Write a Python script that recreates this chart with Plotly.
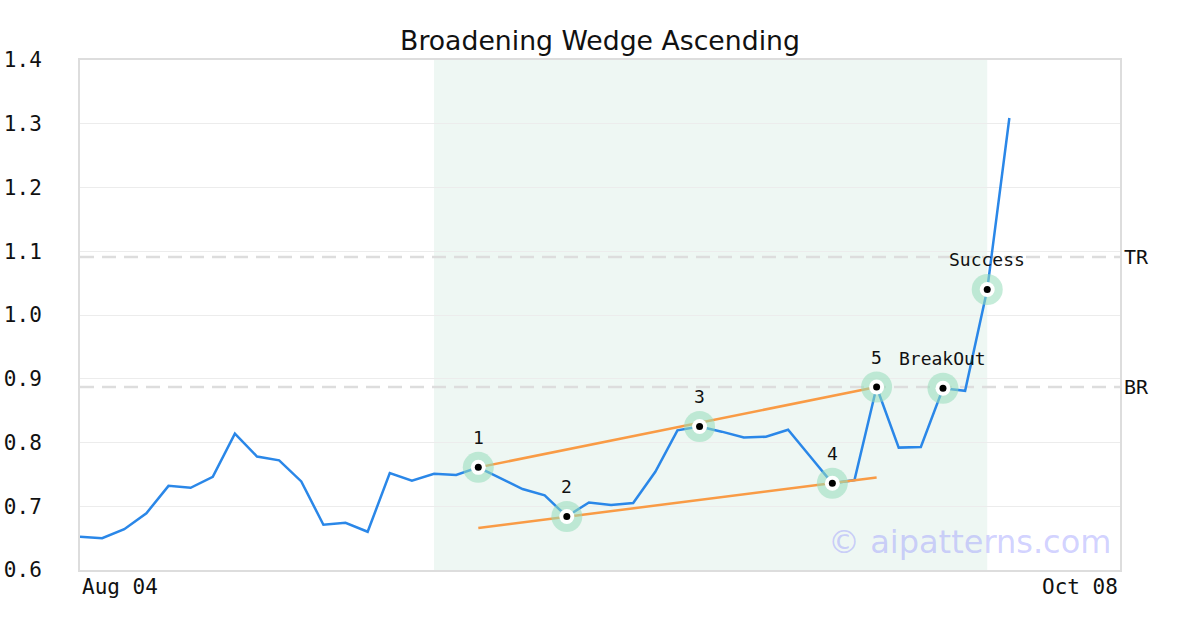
import plotly.graph_objects as go

# ---- data ----
price_idx = list(range(43))
price = [0.652, 0.650, 0.664, 0.689, 0.732, 0.729, 0.746, 0.814, 0.778, 0.772,
         0.739, 0.671, 0.674, 0.660, 0.752, 0.740, 0.751, 0.749, 0.761, 0.744,
         0.727, 0.717, 0.684, 0.706, 0.702, 0.705, 0.754, 0.819, 0.825, 0.817,
         0.808, 0.809, 0.820, 0.778, 0.736, 0.741, 0.887, 0.792, 0.793, 0.885,
         0.881, 1.040, 1.309]

point_labels = ["1", "2", "3", "4", "5", "BreakOut", "Success"]
point_idx = [18, 22, 28, 34, 36, 39, 41]
point_val = [0.761, 0.684, 0.825, 0.736, 0.887, 0.885, 1.040]

upper_idx = [18, 36]
upper_val = [0.761, 0.887]
lower_idx = [18, 36]
lower_val = [0.666, 0.745]

level_names = ["TR", "BR"]
level_vals = [1.091, 0.887]

pattern_span = [16, 41]
x_range = [0, 47]
x_tick_pos = [0, 47]
x_tick_text = ["Aug 04", "Oct 08"]

title = "Broadening Wedge Ascending"
watermark = "© aipatterns.com"

MONO = "DejaVu Sans Mono"

fig = go.Figure()

# shaded pattern zone
fig.add_shape(type="rect", xref="x", yref="paper", x0=pattern_span[0], x1=pattern_span[1],
              y0=0, y1=1, fillcolor="#eef7f3", line=dict(width=0), layer="below")

# TR / BR dashed levels
for name, v in zip(level_names, level_vals):
    fig.add_shape(type="line", xref="paper", yref="y", x0=0, x1=1, y0=v, y1=v,
                  line=dict(color="#dddddd", width=2.5, dash="14px,8px"), layer="below")
    fig.add_annotation(xref="paper", yref="y", x=1, y=v, text=name, showarrow=False,
                       xanchor="left", xshift=2, font=dict(family=MONO, size=20, color="#111"))

# price line
fig.add_trace(go.Scatter(x=price_idx, y=price, mode="lines",
                         line=dict(color="#2a87e8", width=2.5), hoverinfo="skip"))

# trend lines
fig.add_trace(go.Scatter(x=upper_idx, y=upper_val, mode="lines",
                         line=dict(color="#f99b45", width=2.5), hoverinfo="skip"))
fig.add_trace(go.Scatter(x=lower_idx, y=lower_val, mode="lines",
                         line=dict(color="#f99b45", width=2.5), hoverinfo="skip"))

# markers: halo, white ring, black dot
fig.add_trace(go.Scatter(x=point_idx, y=point_val, mode="markers",
                         marker=dict(size=31, color="rgba(150,220,185,0.55)", line=dict(width=0)),
                         hoverinfo="skip"))
fig.add_trace(go.Scatter(x=point_idx, y=point_val, mode="markers",
                         marker=dict(size=15, color="white", line=dict(width=0)),
                         hoverinfo="skip"))
fig.add_trace(go.Scatter(x=point_idx, y=point_val, mode="markers",
                         marker=dict(size=7, color="black", line=dict(width=0)),
                         hoverinfo="skip"))

for lab, xi, v in zip(point_labels, point_idx, point_val):
    fig.add_annotation(x=xi, y=v, text=lab, showarrow=False, yshift=30,
                       font=dict(family=MONO, size=18, color="#111"))

# x tick labels
for pos, txt, anc in zip(x_tick_pos, x_tick_text, ["left", "right"]):
    fig.add_annotation(xref="x", yref="paper", x=pos, y=0, text=txt, showarrow=False,
                       xanchor=anc, yanchor="top", yshift=-3,
                       font=dict(family=MONO, size=21, color="#111"))

# watermark
fig.add_annotation(xref="paper", yref="paper", x=0.993, y=0.055, text=watermark, showarrow=False,
                   xanchor="right", yanchor="middle",
                   font=dict(family="DejaVu Sans", size=32, color="rgba(140,140,255,0.4)"))

fig.update_layout(
    width=1200, height=630,
    margin=dict(l=80, r=80, t=60, b=60),
    paper_bgcolor="white", plot_bgcolor="white",
    showlegend=False,
    title=dict(text=title, x=0.5, xanchor="center", y=0.936, yanchor="middle",
               font=dict(family="DejaVu Sans", size=26.7, color="#111")),
    xaxis=dict(range=x_range, showgrid=False, zeroline=False, showticklabels=False,
               showline=True, mirror=True, linecolor="#dddddd", linewidth=2, ticks="",
               automargin=False),
    yaxis=dict(range=[0.6, 1.4], dtick=0.1, tick0=0.6, tickformat=".1f", showgrid=True,
               gridcolor="#ececec", gridwidth=1, zeroline=False,
               showline=True, mirror=True, linecolor="#dddddd", linewidth=2, ticks="",
               ticklabelstandoff=32, automargin=False,
               tickfont=dict(family=MONO, size=21, color="#111")),
)

fig.write_html("out.html", config={"displayModeBar": False},
               post_script="document.body.style.margin='0';")
